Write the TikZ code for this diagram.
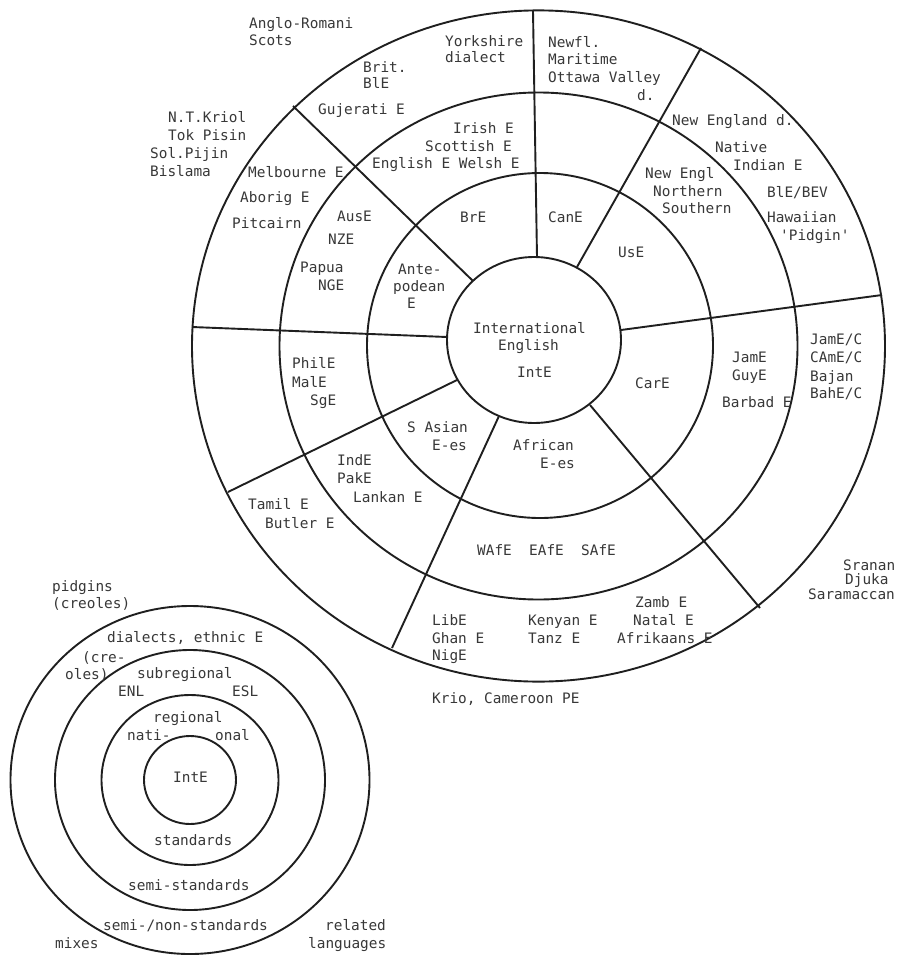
\documentclass[tikz,border=0pt]{standalone}
\usepackage{fontspec}
\newfontfamily\mono{DejaVu Sans Mono}
\definecolor{inkline}{gray}{0.12}
\definecolor{inktext}{gray}{0.22}
\begin{document}
\begin{tikzpicture}[x=1pt,y=-1pt,
  ring/.style={draw=inkline, line width=1.9pt},
  spoke/.style={draw=inkline, line width=1.9pt},
  tx/.style={font=\mono\fontsize{14.4}{17}\selectfont, inner sep=0pt, anchor=base west, text=inktext}]
\useasboundingbox (0,0) rectangle (899,956);
\fill[white] (0,0) rectangle (899,956);

% ---------- large wheel: rings ----------
\coordinate (cw) at (538.5,346);
\coordinate (cm) at (540,345.5);
\coordinate (ci) at (534,340);
\draw[ring] (cw) ellipse [x radius=346.5pt, y radius=335.6pt];
\draw[ring] (cw) ellipse [x radius=259pt, y radius=253.5pt];
\draw[ring] (cm) ellipse [x radius=173pt, y radius=172.5pt];
\draw[ring] (ci) ellipse [x radius=87pt, y radius=83pt];

% ---------- large wheel: spokes ----------
\coordinate (nI)  at (537,257);  \coordinate (nO)  at (533,11);
\coordinate (neI) at (577,267);  \coordinate (neO) at (701,48);
\coordinate (eI)  at (621,330);  \coordinate (eO)  at (882,295);
\coordinate (seI) at (590,405);  \coordinate (seO) at (760,608);
\coordinate (sI)  at (499,416);  \coordinate (sO)  at (392,648);
\coordinate (swI) at (457,380);  \coordinate (swO) at (228,492);
\coordinate (wI)  at (447,337);  \coordinate (wO)  at (192,327);
\coordinate (nwI) at (473,281);  \coordinate (nwO) at (293,106);
\foreach \a in {n,ne,e,se,s,sw,w,nw}
  \draw[spoke] (\a I) -- (\a O);

% ---------- large wheel: labels ----------
\node[tx] (anglo)  at (249,28)  {Anglo-Romani};
\node[tx] (scots)  at (249,45)  {Scots};
\node[tx] (york)   at (445,46)  {Yorkshire};
\node[tx] (dial)   at (445,62)  {dialect};
\node[tx] (brit)   at (363,72)  {Brit.};
\node[tx] (brble)  at (363,88)  {BlE};
\node[tx] (guj)    at (318,114) {Gujerati E};
\node[tx] (newfl)  at (548,47)  {Newfl.};
\node[tx] (marit)  at (548,64)  {Maritime};
\node[tx] (ottawa) at (548,82)  {Ottawa Valley};
\node[tx] (dd)     at (637,100) {d.};
\node[tx] (neweng) at (672,125) {New England d.};
\node[tx] (native) at (715,152) {Native};
\node[tx] (indian) at (733,170) {Indian E};
\node[tx] (blebev) at (767,197) {BlE/BEV};
\node[tx] (hawai)  at (767,222) {Hawaiian};
\node[tx] (pidg)   at (780,240) {'Pidgin'};
\node[tx] (irish)  at (453,133) {Irish E};
\node[tx] (scotte) at (425,151) {Scottish E};
\node[tx] (engwel) at (372,168) {English E Welsh E};
\node[tx] (melb)   at (248,177) {Melbourne E};
\node[tx] (abor)   at (240,202) {Aborig E};
\node[tx] (pitc)   at (232,228) {Pitcairn};
\node[tx] (ntk)    at (168,122) {N.T.Kriol};
\node[tx] (tok)    at (168,140) {Tok Pisin};
\node[tx] (sol)    at (150,158) {Sol.Pijin};
\node[tx] (bisl)   at (150,176) {Bislama};
\node[tx] (ause)   at (337,221) {AusE};
\node[tx] (nze)    at (328,244) {NZE};
\node[tx] (papua)  at (300,272) {Papua};
\node[tx] (nge)    at (318,290) {NGE};
\node[tx] (bre)    at (460,222) {BrE};
\node[tx] (cane)   at (548,222) {CanE};
\node[tx] (nengl)  at (645,178) {New Engl};
\node[tx] (north)  at (653,196) {Northern};
\node[tx] (south)  at (662,213) {Southern};
\node[tx] (use)    at (618,257) {UsE};
\node[tx] (ante)   at (398,274) {Ante-};
\node[tx] (podean) at (393,291) {podean};
\node[tx] (antee)  at (407,308) {E};
\node[tx] (intl)   at (473,333) {International};
\node[tx] (engl)   at (498,350) {English};
\node[tx] (inte)   at (517,377) {IntE};
\node[tx] (care)   at (635,388) {CarE};
\node[tx] (jame)   at (732,362) {JamE};
\node[tx] (guye)   at (732,380) {GuyE};
\node[tx] (barb)   at (722,407) {Barbad E};
\node[tx] (jamc)   at (810,344) {JamE/C};
\node[tx] (camc)   at (810,362) {CAmE/C};
\node[tx] (bajan)  at (810,381) {Bajan};
\node[tx] (bahc)   at (810,398) {BahE/C};
\node[tx] (phil)   at (292,368) {PhilE};
\node[tx] (male)   at (292,387) {MalE};
\node[tx] (sge)    at (310,405) {SgE};
\node[tx] (sasian) at (407,432) {S Asian};
\node[tx] (sases)  at (432,450) {E-es};
\node[tx] (afric)  at (513,450) {African};
\node[tx] (afres)  at (540,468) {E-es};
\node[tx] (inde)   at (337,465) {IndE};
\node[tx] (pake)   at (337,483) {PakE};
\node[tx] (lank)   at (353,502) {Lankan E};
\node[tx] (tamil)  at (248,509) {Tamil E};
\node[tx] (butler) at (265,528) {Butler E};
\node[tx] (afe)    at (477,555) {WAfE\ \ EAfE\ \ SAfE};
\node[tx] (libe)   at (432,625) {LibE};
\node[tx] (ghan)   at (432,643) {Ghan E};
\node[tx] (nige)   at (432,660) {NigE};
\node[tx] (keny)   at (528,625) {Kenyan E};
\node[tx] (tanz)   at (528,643) {Tanz E};
\node[tx] (zamb)   at (635,607) {Zamb E};
\node[tx] (natal)  at (633,625) {Natal E};
\node[tx] (afrik)  at (617,643) {Afrikaans E};
\node[tx] (sranan) at (843,570) {Sranan};
\node[tx] (djuka)  at (845,584) {Djuka};
\node[tx] (saram)  at (808,599) {Saramaccan};
\node[tx] (krio)   at (432,703) {Krio, Cameroon PE};

% ---------- small wheel ----------
\coordinate (cs) at (190,780);
\draw[ring] (cs) ellipse [x radius=46pt, y radius=44pt];
\draw[ring] (cs) ellipse [x radius=88.5pt, y radius=85pt];
\draw[ring] (cs) ellipse [x radius=135pt, y radius=130pt];
\draw[ring] (cs) ellipse [x radius=179.5pt, y radius=174pt];

\node[tx] (pidgins) at (52,591)  {pidgins};
\node[tx] (creol)   at (52,608)  {(creoles)};
\node[tx] (dialeth) at (107,642) {dialects, ethnic E};
\node[tx] (cre)     at (82,662)  {(cre-};
\node[tx] (oles)    at (65,679)  {oles)};
\node[tx] (subreg)  at (137,678) {subregional};
\node[tx] (enl)     at (118,696) {ENL};
\node[tx] (esl)     at (232,696) {ESL};
\node[tx] (regio)   at (153,722) {regional};
\node[tx] (nati)    at (127,740) {nati-};
\node[tx] (onal)    at (215,740) {onal};
\node[tx] (sinte)   at (173,782) {IntE};
\node[tx] (stand)   at (154,845) {standards};
\node[tx] (semist)  at (128,890) {semi-standards};
\node[tx] (nonst)   at (103,930) {semi-/non-standards};
\node[tx] (relat)   at (325,930) {related};
\node[tx] (langs)   at (308,948) {languages};
\node[tx] (mixes)   at (55,948)  {mixes};
\end{tikzpicture}
\end{document}
